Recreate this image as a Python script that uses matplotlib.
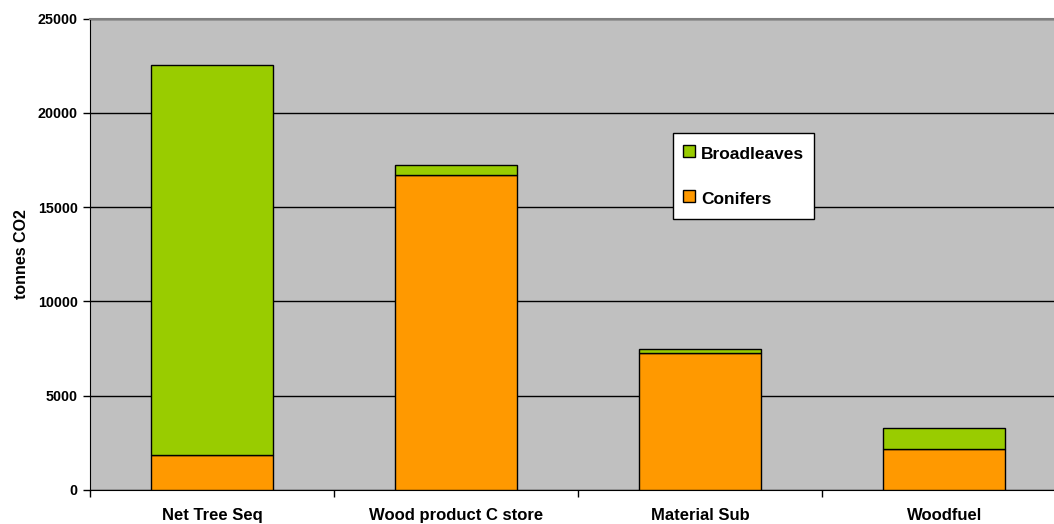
import numpy as np
import matplotlib
matplotlib.use('Agg')
import matplotlib.pyplot as plt
from matplotlib.lines import Line2D

plt.rcParams['font.family'] = ['Liberation Sans', 'DejaVu Sans']
plt.rcParams['font.weight'] = 'bold'

# 各类碳汇数据 (tonnes CO2)
categories = ['Net Tree Seq', 'Wood product C store', 'Material Sub', 'Woodfuel']
conifers = [1850, 16700, 7250, 2170]
broadleaves = [20700, 550, 230, 1130]

fig = plt.figure(figsize=(10.54, 5.24), dpi=100)
ax = fig.add_axes([0.0854, 0.0649, 0.9146, 0.8994])
ax.set_facecolor('#C0C0C0')

x = np.arange(len(categories))
ax.bar(x, conifers, width=0.5, color='#FF9900', edgecolor='black', linewidth=1, zorder=3)
ax.bar(x, broadleaves, width=0.5, bottom=conifers, color='#99CC00', edgecolor='black', linewidth=1, zorder=3)

# 右侧略微超出画布
ax.set_xlim(-0.5, 3.45)
ax.set_ylim(0, 25000)
ax.set_yticks(range(0, 25001, 5000))
ax.yaxis.grid(True, color='black', linewidth=1, zorder=1)
ax.set_axisbelow(True)

# x轴刻度放在类别之间
ax.set_xticks(x)
ax.set_xticklabels(categories, fontsize=12, fontweight='bold')
ax.set_xticks(np.arange(-0.5, len(categories) - 1), minor=True)
ax.tick_params(axis='x', which='major', length=0, pad=13)
ax.tick_params(axis='x', which='minor', length=5, width=1, color='black')
ax.tick_params(axis='y', length=5, width=1, labelsize=10.3, pad=4)
for lbl in ax.get_yticklabels():
    lbl.set_fontweight('bold')

ax.set_ylabel('tonnes CO2', fontsize=11.5, fontweight='bold', labelpad=6)

ax.spines['left'].set_color('black')
ax.spines['bottom'].set_color('black')
ax.spines['top'].set_color('#808080')
ax.spines['top'].set_linewidth(1.5)
ax.spines['right'].set_visible(False)

handles = [Line2D([], [], linestyle='none', marker='s', markersize=8.5,
                  markerfacecolor='#99CC00', markeredgecolor='black', label='Broadleaves'),
           Line2D([], [], linestyle='none', marker='s', markersize=8.5,
                  markerfacecolor='#FF9900', markeredgecolor='black', label='Conifers')]
leg = ax.legend(handles=handles, loc='upper left', bbox_to_anchor=(0.6048, 0.7575),
                frameon=True, fancybox=False, edgecolor='black', framealpha=1,
                prop={'weight': 'bold', 'size': 12.5}, labelspacing=1.35,
                handlelength=0.7, handleheight=1.5, handletextpad=0.35,
                borderpad=0.57, borderaxespad=0)
leg.get_frame().set_linewidth(1)

plt.savefig('out.png', dpi=100)
